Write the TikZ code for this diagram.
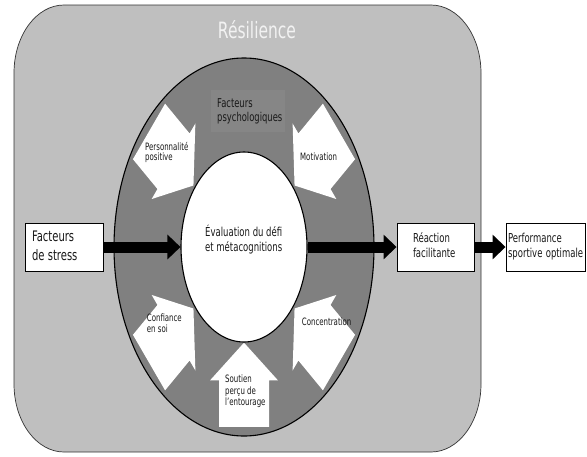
\documentclass[tikz,border=0pt]{standalone}
\usepackage{fontspec}
\setmainfont{DejaVu Sans}
\usepackage{graphicx}
\usetikzlibrary{shapes.geometric}
\usetikzlibrary{arrows.meta}
\usetikzlibrary{positioning}

\newcommand{\tallstack}[3]{\scalebox{1}[1.45]{\fontsize{#1}{#2}\selectfont\begin{tabular}{@{}l@{}}#3\end{tabular}}}

\definecolor{framegray}{gray}{0.75}
\definecolor{ringgray}{gray}{0.5}
\definecolor{psychgray}{gray}{0.525}
\definecolor{titlewhite}{gray}{0.95}
\definecolor{textdark}{gray}{0.1}

\begin{document}
\begin{tikzpicture}[x=1pt,y=-1pt]
\tikzstyle{framestyle}=[fill=framegray,draw=black!80,line width=0.7pt];
\tikzstyle{ringstyle}=[fill=ringgray,draw=black,line width=1.1pt];
\tikzstyle{whitearrow}=[fill=white,shift={(244,247)},yscale=1.45];
\tikzstyle{evalstyle}=[ellipse,draw=black,line width=1.1pt,fill=white,minimum width=126pt,minimum height=190pt,inner sep=0pt];
\tikzstyle{textlabel}=[inner sep=0pt,anchor=west,text=textdark];
\tikzstyle{factorbox}=[draw=black,line width=0.9pt,fill=white,minimum height=48pt,align=left,text=textdark];
\tikzstyle{flowarrow}=[line width=11pt,draw=black,-{Triangle[length=13pt,width=24pt]}];

\useasboundingbox (0,0) rectangle (587,456);

% resilience frame
\draw[framestyle] (64,5) -- (431,5) arc[start angle=-90,end angle=0,x radius=50,y radius=68] -- (481,384) arc[start angle=0,end angle=90,x radius=50,y radius=68] -- (64,452) arc[start angle=90,end angle=180,x radius=50,y radius=68] -- (14,73) arc[start angle=180,end angle=270,x radius=50,y radius=68] -- cycle;
\node[inner sep=0pt,anchor=base,text=titlewhite] (title) at (257,38) {\scalebox{1}[1.45]{\fontsize{15.5}{18}\selectfont Résilience}};

% ring of psychological factors
\draw[ringstyle] (244,247) ellipse [x radius=130,y radius=189];
\node[fill=psychgray,minimum width=74pt,minimum height=42pt,inner sep=0pt] (psychbox) at (248,111) {};
\node[textlabel] (psychtext) at (217,112) {\tallstack{8.4}{9.4}{Facteurs\\psychologiques}};

\def \tilt{40};
\fill[whitearrow,rotate=180-\tilt] (66,0) -- (92,34) -- (92,25) -- (124,25) -- (124,-25) -- (92,-25) -- (92,-34) -- cycle; % personnalite
\fill[whitearrow,rotate=\tilt] (66,0) -- (92,34) -- (92,25) -- (124,25) -- (124,-25) -- (92,-25) -- (92,-34) -- cycle; % motivation
\fill[whitearrow,rotate=180+\tilt] (66,0) -- (92,34) -- (92,25) -- (124,25) -- (124,-25) -- (92,-25) -- (92,-34) -- cycle; % confiance
\fill[whitearrow,rotate=360-\tilt] (66,0) -- (92,34) -- (92,25) -- (124,25) -- (124,-25) -- (92,-25) -- (92,-34) -- cycle; % concentration
\fill[whitearrow,rotate=270] (66,0) -- (92,34) -- (92,25) -- (124,25) -- (124,-25) -- (92,-25) -- (92,-34) -- cycle; % soutien

\node[textlabel] (persotext) at (145,153) {\tallstack{7}{6.9}{Personnalité\\positive}};
\node[textlabel] (motivtext) at (300,158) {\tallstack{7}{7}{Motivation}};
\node[textlabel] (confitext) at (146.7,325) {\tallstack{7}{7.8}{Confiance\\en soi}};
\node[textlabel] (concentext) at (301.7,323) {\tallstack{7}{7.5}{Concentration}};
\node[textlabel] (soutientext) at (225,391.8) {\tallstack{7}{7.6}{Soutien\\perçu de\\l'entourage}};

% appraisal
\node[evalstyle] (eval) at (244,247) {};
\node[textlabel] (evaltext) at (205,240.5) {\tallstack{8.5}{10.3}{Évaluation du défi\\et métacognitions}};

% boxes on the main line
\node[factorbox,text width=64pt,inner xsep=7pt] (stress) at (64,247) {\tallstack{10}{13.1}{Facteurs\\de stress}};
\node[factorbox,text width=45pt,inner xsep=16pt] (reaction) at (435.5,247) {\tallstack{8.5}{10.3}{Réaction\\facilitante}};
\node[factorbox,text width=75pt,inner xsep=2pt] (perf) at (545.5,247) {\tallstack{8.5}{10.3}{Performance\\sportive optimale}};

\draw[flowarrow] (stress) -- (eval);
\draw[flowarrow] (eval) -- (reaction);
\draw[flowarrow] (reaction) -- (perf);

\end{tikzpicture}
\end{document}
